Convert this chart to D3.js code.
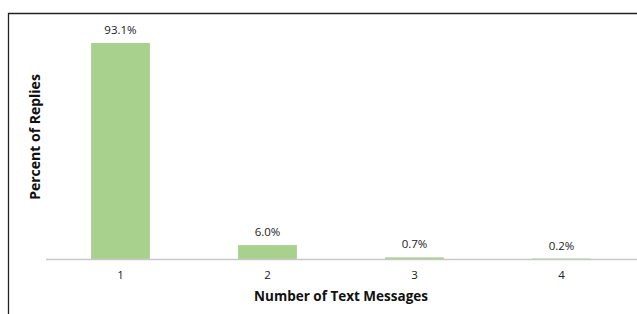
<!DOCTYPE html>
<html>
<head>
<meta charset="utf-8">
<script src="https://cdn.jsdelivr.net/npm/d3@7"></script>
<style>
  body { margin: 0; background: #fff; }
  text { font-family: "Open Sans", sans-serif; }
</style>
</head>
<body>
<svg id="chart"></svg>
<script>
// ---------- data ----------
var categories = ["1", "2", "3", "4"];
var values = [93.1, 6.0, 0.7, 0.2];
var valueLabels = ["93.1%", "6.0%", "0.7%", "0.2%"];

var width = 637, height = 314;
var svg = d3.select('#chart')
  .attr('width', width)
  .attr('height', height);

// frame (top + left only are visible)
svg.append('path')
  .attr('d', 'M8.5,314 V13.5 H637')
  .attr('fill', 'none')
  .attr('stroke', '#222')
  .attr('stroke-width', 1.3);

// scales
var xScale = d3.scaleBand()
  .domain(categories)
  .range([47, 635])
  .paddingInner(0.6)
  .paddingOuter(0.3);

var yScale = d3.scaleLinear()
  .domain([0, 100])
  .range([259, 27]);

var data = categories.map(function(c, i) {
  return { cat: c, val: values[i], label: valueLabels[i] };
});

// bars
svg.selectAll('rect.bar')
  .data(data)
  .enter()
  .append('rect')
    .classed('bar', true)
    .attr('x', d => xScale(d.cat))
    .attr('width', xScale.bandwidth())
    .attr('y', d => yScale(d.val))
    .attr('height', d => yScale(0) - yScale(d.val))
    .attr('fill', '#a9d18e');

// value labels
svg.selectAll('text.val')
  .data(data)
  .enter()
  .append('text')
    .classed('val', true)
    .attr('x', d => xScale(d.cat) + xScale.bandwidth() / 2)
    .attr('y', d => yScale(d.val) - 9)
    .attr('text-anchor', 'middle')
    .attr('font-size', 11.5)
    .attr('fill', '#222')
    .text(d => d.label);

// x axis
var xAxis = d3.axisBottom(xScale).tickSize(0).tickSizeOuter(0);
var gx = svg.append('g')
  .attr('transform', 'translate(0,' + yScale(0) + ')')
  .call(xAxis);
gx.select('.domain')
  .attr('d', 'M46,0.5 H637')
  .attr('stroke', '#c8c8c8')
  .attr('stroke-width', 1.3);
gx.selectAll('text')
  .attr('dy', 0)
  .attr('y', 20)
  .attr('font-size', 11.5)
  .attr('font-family', '"Open Sans", sans-serif')
  .attr('fill', '#222');

// axis titles
svg.append('text')
  .text('Number of Text Messages')
  .attr('x', (47 + 635) / 2)
  .attr('y', 301)
  .attr('text-anchor', 'middle')
  .attr('font-size', 13.5)
  .attr('font-weight', 'bold')
  .attr('fill', '#111');

svg.append('text')
  .text('Percent of Replies')
  .attr('transform', 'translate(40,137) rotate(-90)')
  .attr('text-anchor', 'middle')
  .attr('font-size', 14)
  .attr('font-weight', 'bold')
  .attr('fill', '#111');
</script>
</body>
</html>
